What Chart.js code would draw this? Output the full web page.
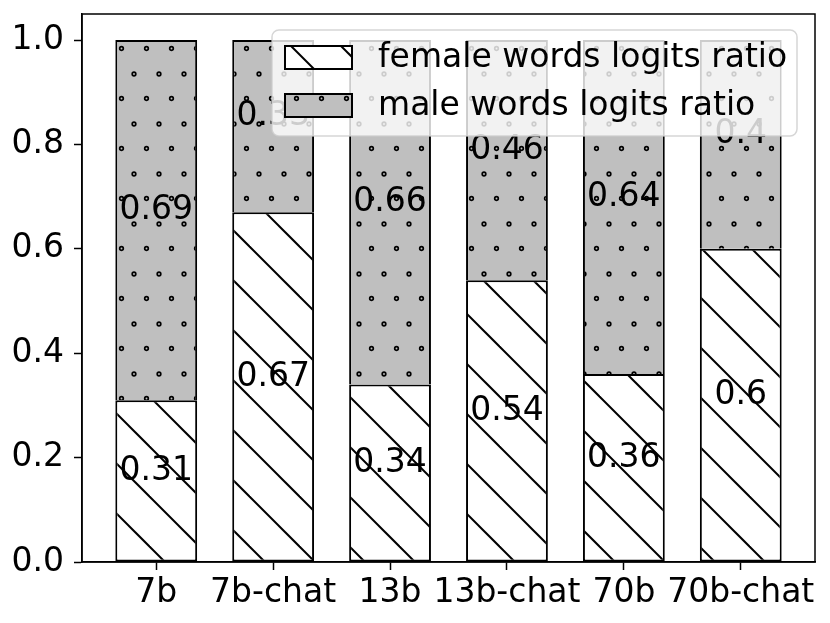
<!DOCTYPE html>
<html>
<head>
<meta charset="utf-8">
<script src="https://cdn.jsdelivr.net/npm/chart.js@4.4.1/dist/chart.umd.min.js"></script>
<style>
  html, body { margin: 0; padding: 0; background: #fff; }
  canvas { display: block; }
</style>
</head>
<body>
<canvas id="chart" width="830" height="623"></canvas>
<script>
const categories = ["7b", "7b-chat", "13b", "13b-chat", "70b", "70b-chat"];
const femaleRatio = [0.31, 0.67, 0.34, 0.54, 0.36, 0.6];
const maleRatio = [0.69, 0.33, 0.66, 0.46, 0.64, 0.4];
const yTicks = [0.0, 0.2, 0.4, 0.6, 0.8, 1.0];
const seriesNames = ["female words logits ratio", "male words logits ratio"];

const FONT = "DejaVu Sans";
const FS = 33;

// hatch '\\' on white
function lineHatch() {
  const c = document.createElement("canvas");
  c.width = 50; c.height = 50;
  const g = c.getContext("2d");
  g.fillStyle = "#fff";
  g.fillRect(0, 0, 50, 50);
  g.strokeStyle = "#000";
  g.lineWidth = 2;
  for (let k = -2; k <= 1; k++) {
    g.beginPath();
    g.moveTo(-5, 47 + 50 * k - 5);
    g.lineTo(55, 47 + 50 * k + 55);
    g.stroke();
  }
  return g.createPattern(c, "repeat");
}

// hatch 'o' on grey
function dotHatch() {
  const c = document.createElement("canvas");
  c.width = 25; c.height = 50;
  const g = c.getContext("2d");
  g.fillStyle = "#bfbfbf";
  g.fillRect(0, 0, 25, 50);
  g.strokeStyle = "#000";
  g.lineWidth = 1.7;
  const pts = [[21.5, 48.5], [9, 24]];
  pts.forEach(([px, py]) => {
    for (let dx = -25; dx <= 25; dx += 25) {
      for (let dy = -50; dy <= 50; dy += 50) {
        g.beginPath();
        g.arc(px + dx, py + dy, 1.8, 0, Math.PI * 2);
        g.stroke();
      }
    }
  });
  return g.createPattern(c, "repeat");
}

const femaleFill = lineHatch();
const maleFill = dotHatch();

const labelsAndFrame = {
  id: "labelsAndFrame",
  afterDatasetsDraw(chart) {
    const ctx = chart.ctx;
    const y = chart.scales.y;
    ctx.save();
    ctx.font = FS + "px '" + FONT + "'";
    ctx.fillStyle = "#000";
    ctx.textAlign = "center";
    ctx.textBaseline = "middle";
    chart.data.datasets.forEach((ds, di) => {
      const meta = chart.getDatasetMeta(di);
      meta.data.forEach((bar, i) => {
        const v = ds.data[i].y;
        const base = di === 0 ? 0 : femaleRatio[i];
        const cy = y.getPixelForValue(base + v / 2) - 10;
        ctx.fillText(String(v), bar.x, cy);
      });
    });
    const a = chart.chartArea;
    ctx.strokeStyle = "#000";
    ctx.lineWidth = 1.5;
    ctx.strokeRect(a.left, a.top, a.right - a.left, a.bottom - a.top);
    ctx.restore();
  },
  afterDraw(chart) {
    const ctx = chart.ctx;
    ctx.save();
    // legend box
    ctx.beginPath();
    ctx.roundRect(272, 30, 525, 106, 7);
    ctx.fillStyle = "rgba(255,255,255,0.8)";
    ctx.fill();
    ctx.strokeStyle = "rgba(204,204,204,0.8)";
    ctx.lineWidth = 1.5;
    ctx.stroke();

    const px = 285, pw = 67, ph = 23;
    // female patch: white with '\' hatch
    let ry = 46;
    ctx.save();
    ctx.beginPath();
    ctx.rect(px, ry, pw, ph);
    ctx.clip();
    ctx.fillStyle = "#fff";
    ctx.fillRect(px, ry, pw, ph);
    ctx.strokeStyle = "#000";
    ctx.lineWidth = 2;
    [291, 341].forEach(x0 => {
      ctx.beginPath();
      ctx.moveTo(x0 - 5, ry - 5);
      ctx.lineTo(x0 + 30, ry + 30);
      ctx.stroke();
    });
    ctx.restore();
    // male patch
    ctx.fillStyle = maleFill;
    ctx.fillRect(px, 94, pw, ph);

    ctx.font = FS + "px '" + FONT + "'";
    ctx.textAlign = "left";
    ctx.textBaseline = "middle";
    [46, 94].forEach((yy, i) => {
      ctx.strokeStyle = "#000";
      ctx.lineWidth = 2;
      ctx.strokeRect(px, yy, pw, ph);
      ctx.fillStyle = "#000";
      ctx.fillText(seriesNames[i], 378, yy + 12);
    });
    ctx.restore();
  }
};

const tickFont = { family: FONT, size: FS };

new Chart(document.getElementById("chart"), {
  type: "bar",
  data: {
    datasets: [
      {
        label: seriesNames[0],
        data: femaleRatio.map((v, i) => ({ x: i, y: v })),
        backgroundColor: femaleFill,
        borderColor: "#000",
        borderWidth: 2,
        borderSkipped: false,
        categoryPercentage: 1,
        barPercentage: 0.7
      },
      {
        label: seriesNames[1],
        data: maleRatio.map((v, i) => ({ x: i, y: v })),
        backgroundColor: maleFill,
        borderColor: "#000",
        borderWidth: 2,
        borderSkipped: "bottom",
        categoryPercentage: 1,
        barPercentage: 0.7
      }
    ]
  },
  options: {
    responsive: false,
    animation: false,
    devicePixelRatio: 1,
    layout: { padding: { top: 14, right: 15, left: 0, bottom: 0 } },
    plugins: {
      legend: { display: false },
      tooltip: { enabled: false }
    },
    scales: {
      x: {
        type: "linear",
        min: -0.635,
        max: 5.635,
        offset: false,
        stacked: true,
        grid: { offset: false, drawOnChartArea: false, drawTicks: true, tickLength: 8, color: "#000", tickWidth: 1.5 },
        border: { display: true, color: "#000", width: 1.5 },
        ticks: {
          font: tickFont,
          color: "#000",
          padding: 4,
          autoSkip: false,
          maxRotation: 0,
          callback: v => categories[v] ?? ""
        },
        afterBuildTicks: axis => { axis.ticks = categories.map((_, i) => ({ value: i })); },
        afterFit: s => { s.height = 61; s.paddingLeft = 0; s.paddingRight = 0; }
      },
      y: {
        min: 0,
        max: 1.05,
        stacked: true,
        grid: { drawOnChartArea: false, drawTicks: true, tickLength: 8, color: "#000", tickWidth: 1.5 },
        border: { display: true, color: "#000", width: 1.5 },
        ticks: {
          font: tickFont,
          color: "#000",
          padding: 10,
          callback: v => Number(v).toFixed(1)
        },
        afterBuildTicks: axis => { axis.ticks = yTicks.map(v => ({ value: v })); },
        afterFit: s => { s.width = 82; s.paddingTop = 0; s.paddingBottom = 0; }
      }
    }
  },
  plugins: [labelsAndFrame]
});
</script>
</body>
</html>
